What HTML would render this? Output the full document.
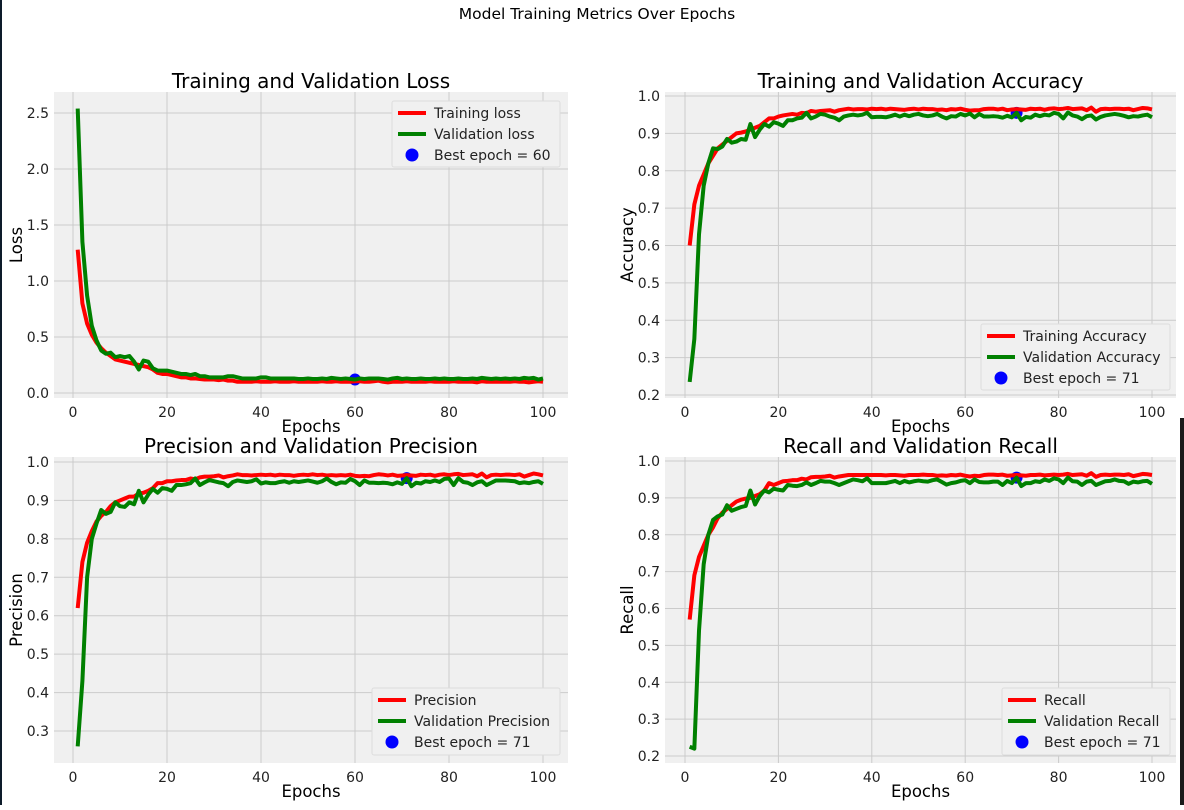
<!DOCTYPE html>
<html><head><meta charset="utf-8">
<style>
html,body{margin:0;padding:0;background:#fff;}
body{width:1184px;height:805px;overflow:hidden;position:relative;font-family:"Liberation Sans","DejaVu Sans",sans-serif;}
svg text{font-family:"DejaVu Sans","Liberation Sans",sans-serif;}
</style></head>
<body>
<svg id="fig" width="1184" height="805" viewBox="0 0 1184 805" xmlns="http://www.w3.org/2000/svg">
<rect x="0" y="0" width="1184" height="805" fill="#ffffff"/>
<rect x="0" y="0" width="2" height="805" fill="#0d1b2a"/>
<rect x="1180" y="418" width="4" height="387" fill="#1a1a1a"/>
<text x="597" y="19" font-size="15.5" text-anchor="middle" fill="#000">Model Training Metrics Over Epochs</text>
</svg>
<script>
const epochs = Array.from({length:100},(_,i)=>i+1);
const lossTrain = [1.28,0.8,0.62,0.52,0.45,0.4,0.36,0.33,0.3,0.29,0.28,0.27,0.26,0.25,0.24,0.23,0.21,0.18,0.17,0.17,
0.16,0.15,0.14,0.14,0.13,0.13,0.125,0.12,0.12,0.12,0.115,0.12,0.11,0.11,0.1,0.1,0.1,0.1,0.105,0.1,
0.1,0.1,0.105,0.1,0.1,0.1,0.105,0.1,0.1,0.1,0.1,0.1,0.105,0.1,0.1,0.105,0.1,0.1,0.1,0.105,
0.105,0.1,0.1,0.105,0.11,0.1,0.095,0.1,0.1,0.1,0.105,0.1,0.1,0.1,0.1,0.105,0.1,0.1,0.1,0.1,
0.105,0.1,0.1,0.1,0.1,0.095,0.105,0.1,0.1,0.1,0.1,0.1,0.1,0.105,0.1,0.1,0.095,0.1,0.105,0.1];
const lossVal = [2.54,1.35,0.87,0.6,0.47,0.38,0.35,0.36,0.32,0.33,0.32,0.33,0.28,0.21,0.29,0.28,0.22,0.2,0.2,0.2,
0.19,0.18,0.17,0.17,0.16,0.17,0.15,0.15,0.14,0.14,0.14,0.14,0.15,0.15,0.14,0.13,0.13,0.13,0.13,0.14,
0.14,0.13,0.13,0.13,0.13,0.13,0.13,0.125,0.125,0.13,0.125,0.125,0.13,0.125,0.135,0.13,0.125,0.13,0.125,0.12,
0.13,0.125,0.13,0.13,0.13,0.125,0.12,0.13,0.135,0.125,0.13,0.125,0.125,0.13,0.125,0.125,0.13,0.125,0.13,0.125,
0.125,0.13,0.125,0.125,0.13,0.125,0.135,0.13,0.125,0.13,0.125,0.13,0.125,0.13,0.125,0.135,0.13,0.135,0.12,0.13];
const accTrain = [0.6,0.71,0.76,0.79,0.82,0.84,0.86,0.87,0.88,0.89,0.9,0.902,0.905,0.91,0.915,0.92,0.93,0.94,0.94,0.945,
0.948,0.95,0.952,0.95,0.955,0.954,0.96,0.958,0.96,0.961,0.962,0.958,0.962,0.964,0.966,0.964,0.965,0.965,0.964,0.966,
0.965,0.966,0.964,0.966,0.965,0.964,0.963,0.965,0.966,0.964,0.966,0.965,0.965,0.963,0.964,0.962,0.965,0.964,0.966,0.963,
0.961,0.962,0.962,0.965,0.966,0.966,0.964,0.966,0.962,0.964,0.965,0.964,0.963,0.966,0.965,0.966,0.963,0.966,0.967,0.965,
0.966,0.968,0.965,0.966,0.967,0.962,0.969,0.958,0.965,0.966,0.965,0.966,0.966,0.965,0.966,0.962,0.965,0.968,0.967,0.964];
const accVal = [0.235,0.35,0.63,0.76,0.82,0.86,0.858,0.865,0.885,0.875,0.878,0.885,0.883,0.925,0.89,0.91,0.925,0.918,0.93,0.926,
0.92,0.935,0.935,0.94,0.942,0.955,0.94,0.945,0.952,0.95,0.945,0.942,0.935,0.945,0.948,0.95,0.948,0.95,0.955,0.943,
0.944,0.944,0.943,0.946,0.95,0.945,0.95,0.946,0.95,0.952,0.948,0.946,0.948,0.952,0.945,0.94,0.946,0.945,0.952,0.948,
0.953,0.943,0.952,0.945,0.945,0.946,0.945,0.942,0.947,0.943,0.955,0.935,0.944,0.942,0.95,0.946,0.95,0.948,0.955,0.952,
0.94,0.956,0.948,0.945,0.938,0.946,0.948,0.937,0.944,0.948,0.95,0.952,0.95,0.947,0.943,0.946,0.945,0.948,0.95,0.943];
const precTrain = [0.62,0.74,0.79,0.82,0.845,0.86,0.87,0.885,0.895,0.9,0.905,0.91,0.91,0.918,0.92,0.925,0.932,0.945,0.945,0.95,
0.95,0.952,0.953,0.953,0.957,0.955,0.96,0.962,0.962,0.963,0.965,0.96,0.963,0.965,0.968,0.966,0.966,0.965,0.966,0.967,
0.966,0.967,0.965,0.967,0.966,0.966,0.964,0.966,0.967,0.966,0.968,0.966,0.967,0.965,0.966,0.965,0.966,0.965,0.967,0.964,
0.963,0.964,0.963,0.966,0.968,0.967,0.965,0.967,0.964,0.965,0.966,0.965,0.964,0.967,0.966,0.967,0.964,0.967,0.968,0.966,
0.968,0.969,0.966,0.967,0.968,0.963,0.97,0.96,0.966,0.967,0.966,0.967,0.967,0.966,0.968,0.962,0.966,0.97,0.968,0.965];
const precVal = [0.26,0.43,0.7,0.8,0.84,0.875,0.865,0.87,0.895,0.885,0.883,0.895,0.89,0.925,0.895,0.915,0.93,0.92,0.932,0.93,
0.925,0.94,0.94,0.942,0.945,0.957,0.94,0.947,0.953,0.95,0.947,0.945,0.937,0.948,0.952,0.95,0.948,0.95,0.955,0.944,
0.947,0.945,0.945,0.948,0.95,0.946,0.95,0.948,0.95,0.952,0.949,0.946,0.95,0.957,0.948,0.942,0.947,0.946,0.956,0.95,
0.94,0.952,0.946,0.946,0.945,0.946,0.945,0.942,0.947,0.943,0.958,0.937,0.946,0.944,0.95,0.948,0.952,0.948,0.956,0.957,
0.94,0.958,0.948,0.946,0.94,0.947,0.95,0.94,0.946,0.952,0.952,0.952,0.951,0.95,0.945,0.947,0.945,0.948,0.95,0.943];
const recTrain = [0.57,0.69,0.74,0.77,0.8,0.82,0.845,0.86,0.87,0.88,0.89,0.895,0.898,0.9,0.905,0.91,0.92,0.94,0.935,0.94,
0.945,0.946,0.948,0.948,0.952,0.95,0.956,0.957,0.957,0.958,0.96,0.955,0.958,0.96,0.962,0.962,0.962,0.962,0.962,0.962,
0.962,0.962,0.961,0.962,0.962,0.961,0.96,0.962,0.962,0.962,0.963,0.962,0.962,0.96,0.961,0.96,0.962,0.961,0.963,0.96,
0.958,0.96,0.959,0.962,0.963,0.963,0.962,0.963,0.96,0.961,0.962,0.961,0.96,0.962,0.962,0.963,0.961,0.962,0.963,0.962,
0.963,0.965,0.962,0.963,0.964,0.96,0.967,0.957,0.962,0.963,0.962,0.963,0.963,0.962,0.964,0.959,0.962,0.965,0.964,0.962];
const recVal = [0.225,0.22,0.54,0.72,0.8,0.84,0.85,0.855,0.88,0.865,0.87,0.875,0.878,0.92,0.882,0.905,0.92,0.915,0.925,0.922,
0.92,0.935,0.933,0.932,0.935,0.942,0.935,0.94,0.946,0.944,0.944,0.94,0.935,0.94,0.945,0.95,0.948,0.945,0.953,0.94,
0.94,0.94,0.94,0.943,0.946,0.94,0.946,0.942,0.945,0.947,0.945,0.944,0.948,0.95,0.943,0.936,0.94,0.942,0.946,0.948,
0.94,0.95,0.943,0.942,0.942,0.944,0.944,0.935,0.946,0.94,0.955,0.932,0.94,0.94,0.945,0.943,0.95,0.946,0.953,0.95,
0.94,0.955,0.945,0.944,0.935,0.944,0.946,0.935,0.94,0.945,0.946,0.95,0.946,0.945,0.938,0.944,0.942,0.945,0.946,0.938];
const xTicks = [0,20,40,60,80,100];
const lossTicks = [0.0,0.5,1.0,1.5,2.0,2.5];
const accTicks = [0.2,0.3,0.4,0.5,0.6,0.7,0.8,0.9,1.0];
const precTicks = [0.3,0.4,0.5,0.6,0.7,0.8,0.9,1.0];
const recTicks = [0.2,0.3,0.4,0.5,0.6,0.7,0.8,0.9,1.0];
const bestLossEpoch = 60;
const bestAccEpoch = 71;

const NS='http://www.w3.org/2000/svg';
const fig=document.getElementById('fig');
function mk(tag,attrs,parent){const e=document.createElementNS(NS,tag);for(const k in attrs)e.setAttribute(k,attrs[k]);(parent||fig).appendChild(e);return e;}

const panels=[
 {key:'loss',title:'Training and Validation Loss',ylabel:'Loss',box:[54,92,568,398],x0:73,x1:543,yv:[0,2.5],yp:[393,113],ticks:lossTicks,tr:lossTrain,va:lossVal,best:bestLossEpoch,
  leg:[392,101,560,167],names:['Training loss','Validation loss','Best epoch = '+bestLossEpoch],ylx:16},
 {key:'accuracy',title:'Training and Validation Accuracy',ylabel:'Accuracy',box:[665,92,1176,398],x0:685,x1:1152,yv:[0.2,1.0],yp:[395,96],ticks:accTicks,tr:accTrain,va:accVal,best:bestAccEpoch,
  leg:[981,324,1170,390],names:['Training Accuracy','Validation Accuracy','Best epoch = '+bestAccEpoch],ylx:627},
 {key:'precision',title:'Precision and Validation Precision',ylabel:'Precision',box:[54,457,568,763],x0:73,x1:543,yv:[0.3,1.0],yp:[731,462],ticks:precTicks,tr:precTrain,va:precVal,best:bestAccEpoch,
  leg:[372,688,560,755],names:['Precision','Validation Precision','Best epoch = '+bestAccEpoch],ylx:16},
 {key:'recall',title:'Recall and Validation Recall',ylabel:'Recall',box:[665,457,1176,763],x0:685,x1:1152,yv:[0.2,1.0],yp:[756,461],ticks:recTicks,tr:recTrain,va:recVal,best:bestAccEpoch,
  leg:[1002,688,1170,755],names:['Recall','Validation Recall','Best epoch = '+bestAccEpoch],ylx:627}
];

panels.forEach(p=>{
 const [L,T,R,B]=p.box;
 const xs=v=>p.x0+(v-0)*(p.x1-p.x0)/100;
 const ys=v=>p.yp[0]+(v-p.yv[0])*(p.yp[1]-p.yp[0])/(p.yv[1]-p.yv[0]);
 const g=mk('g',{});
 
 
 const bg=mk('rect',{x:L,y:T,width:R-L,height:B-T,fill:'#f0f0f0'},g);
 
 
 xTicks.forEach(t=>{
  const gl=mk('line',{x1:xs(t),x2:xs(t),y1:T,y2:B,stroke:'#cbcbcb','stroke-width':1},g);
  
  
  const tl=mk('text',{x:xs(t),y:B+19,'font-size':14,'text-anchor':'middle',fill:'#222'},g);
  
  
  tl.textContent=t;
 });
 p.ticks.forEach(t=>{
  const gl=mk('line',{x1:L,x2:R,y1:ys(t),y2:ys(t),stroke:'#cbcbcb','stroke-width':1},g);
  
  
  const tl=mk('text',{x:L-5,y:ys(t)+5,'font-size':14,'text-anchor':'end',fill:'#222'},g);
  
  
  tl.textContent=t.toFixed(1);
 });
 const bv=p.va[p.best-1];
 const bp=mk('circle',{cx:xs(p.best),cy:ys(bv),r:6,fill:'#0000ff'},g);
 
 
 const tr=mk('polyline',{points:epochs.map((e,i)=>xs(e)+','+ys(p.tr[i])).join(' '),fill:'none',stroke:'#ff0000','stroke-width':4,'stroke-linejoin':'round'},g);
 
 
 const va=mk('polyline',{points:epochs.map((e,i)=>xs(e)+','+ys(p.va[i])).join(' '),fill:'none',stroke:'#008000','stroke-width':4,'stroke-linejoin':'round'},g);
 
 
 const ti=mk('text',{x:(L+R)/2,y:T-4,'font-size':20,'text-anchor':'middle',fill:'#000'},g);
 
 
 ti.textContent=p.title;
 const xl=mk('text',{x:(L+R)/2,y:B+34,'font-size':16.5,'text-anchor':'middle',fill:'#000'},g);
 
 
 xl.textContent='Epochs';
 const cy=(T+B)/2;
 const yl=mk('text',{x:p.ylx,y:cy,'font-size':16.5,'text-anchor':'middle',fill:'#000',transform:'rotate(-90 '+(p.ylx)+' '+cy+') translate(0 6)'},g);
 
 
 yl.textContent=p.ylabel;
 const [lx,ly,lr,lb]=p.leg;
 const lg=mk('g',{},g);
 
 
 mk('rect',{x:lx,y:ly,width:lr-lx,height:lb-ly,fill:'#f0f0f0',stroke:'#dddddd','stroke-width':1,rx:2},lg);
 const cols=['#ff0000','#008000','#0000ff'];
 p.names.forEach((n,i)=>{
  const ry=ly+12+i*21;
  if(i<2){const h=mk('line',{x1:lx+6,x2:lx+34,y1:ry,y2:ry,stroke:cols[i],'stroke-width':4},lg);
   
   }
  else{const h=mk('circle',{cx:lx+20,cy:ry,r:6.5,fill:cols[i]},lg);
   
   }
  const t=mk('text',{x:lx+42,y:ry+5,'font-size':14,fill:'#222'},lg);
  
  
  t.textContent=n;
 });
});
</script>
</body></html>
